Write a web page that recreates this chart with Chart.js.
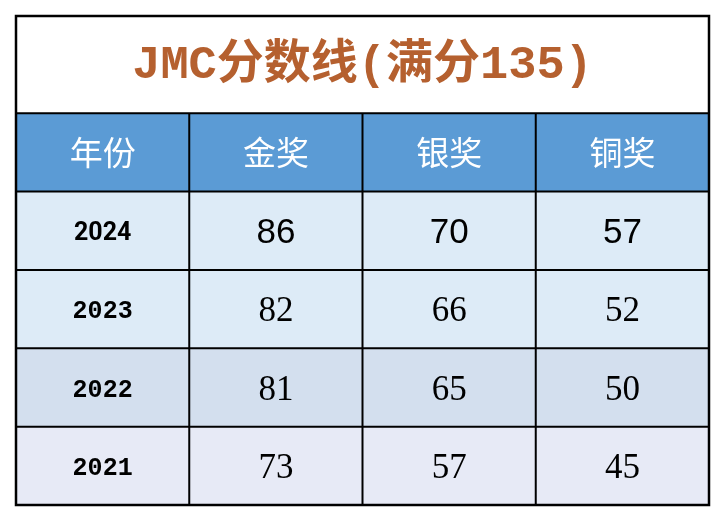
<!DOCTYPE html>
<html><head><meta charset="utf-8">
<script src="https://cdn.jsdelivr.net/npm/chart.js@4"></script>
<style>html,body{margin:0;padding:0;background:#fff}</style>
</head><body>
<canvas id="c" width="724" height="522"></canvas>
<script>
const title = "JMC分数线(满分135)";
const headers = ["年份", "金奖", "银奖", "铜奖"];
const years = ["2024", "2023", "2022", "2021"];
const gold = [86, 82, 81, 73];
const silver = [70, 66, 65, 57];
const bronze = [57, 52, 50, 45];

const rowFills = ["#DDEBF7", "#DDEBF7", "#D3DFEE", "#E7EAF6"];
const TITLE_H = 1.24;
const F_TITLE = "bold 47px 'Liberation Mono','Noto Sans CJK SC',monospace";
const F_HEAD = "33px 'Noto Sans CJK SC',serif";
const F_Y0 = "bold 25px Roboto,'DejaVu Sans',sans-serif";
const F_V0 = "35px 'Liberation Sans',Arial,sans-serif";
const F_Y = "bold 25px 'Liberation Mono',monospace";
const F_V = "35px 'Liberation Serif',serif";
const plugin = {
  id: 'table',
  afterDraw(chart) {
    const ctx = chart.ctx, xs = chart.scales.x, ys = chart.scales.y;
    const X = v => xs.getPixelForValue(v), Y = v => ys.getPixelForValue(v);
    const cols = headers.length;
    ctx.save();
    ctx.fillStyle = "#fff";
    ctx.fillRect(X(0), Y(0), X(cols) - X(0), Y(TITLE_H) - Y(0));
    ctx.fillStyle = "#B5602F";
    ctx.textAlign = "center"; ctx.textBaseline = "middle";
    ctx.font = F_TITLE;
    ctx.fillText(title, (X(0) + X(cols)) / 2, (Y(0) + Y(TITLE_H)) / 2 + 2);
    const hy0 = TITLE_H, hy1 = TITLE_H + 1;
    ctx.fillStyle = "#5B9BD5";
    ctx.fillRect(X(0), Y(hy0), X(cols) - X(0), Y(hy1) - Y(hy0));
    ctx.fillStyle = "#fff";
    ctx.font = F_HEAD;
    headers.forEach((h, i) => ctx.fillText(h, (X(i) + X(i + 1)) / 2, (Y(hy0) + Y(hy1)) / 2));
    years.forEach((yr, r) => {
      const a = hy1 + r, b = a + 1;
      ctx.fillStyle = rowFills[r];
      ctx.fillRect(X(0), Y(a), X(cols) - X(0), Y(b) - Y(a));
      const vals = [yr, gold[r], silver[r], bronze[r]];
      const cy = (Y(a) + Y(b)) / 2;
      ctx.fillStyle = "#000";
      vals.forEach((v, i) => {
        if (r === 0) ctx.font = i === 0 ? F_Y0 : F_V0;
        else ctx.font = i === 0 ? F_Y : F_V;
        ctx.fillText(String(v), (X(i) + X(i + 1)) / 2, cy + 3);
      });
    });
    ctx.strokeStyle = "#000"; ctx.lineWidth = 2;
    const total = hy1 + years.length;
    for (let r = TITLE_H; r <= total - 1 + 0.001; r += 1) {
      ctx.beginPath(); ctx.moveTo(X(0), Y(r)); ctx.lineTo(X(cols), Y(r)); ctx.stroke();
    }
    for (let i = 1; i < cols; i++) {
      ctx.beginPath(); ctx.moveTo(X(i), Y(hy0)); ctx.lineTo(X(i), Y(total)); ctx.stroke();
    }
    ctx.lineWidth = 2.5;
    ctx.strokeRect(X(0), Y(0), X(cols) - X(0), Y(total) - Y(0));
    ctx.restore();
  }
};
function build() {
  new Chart(document.getElementById('c'), {
    type: 'scatter',
    data: { datasets: [{ data: [] }] },
    options: {
      responsive: false, animation: false,
      layout: { padding: { left: 16, right: 15, top: 16, bottom: 17 } },
      plugins: { legend: { display: false }, tooltip: { enabled: false } },
      scales: {
        x: { type: 'linear', min: 0, max: headers.length, display: false },
        y: { type: 'linear', min: 0, max: TITLE_H + 1 + years.length, reverse: true, display: false }
      }
    },
    plugins: [plugin]
  });
}
Promise.all([F_TITLE, F_HEAD, F_Y0, F_V0, F_Y, F_V].map(f => document.fonts.load(f, "年份2024JMC")))
  .then(build, build);
</script>
</body></html>
